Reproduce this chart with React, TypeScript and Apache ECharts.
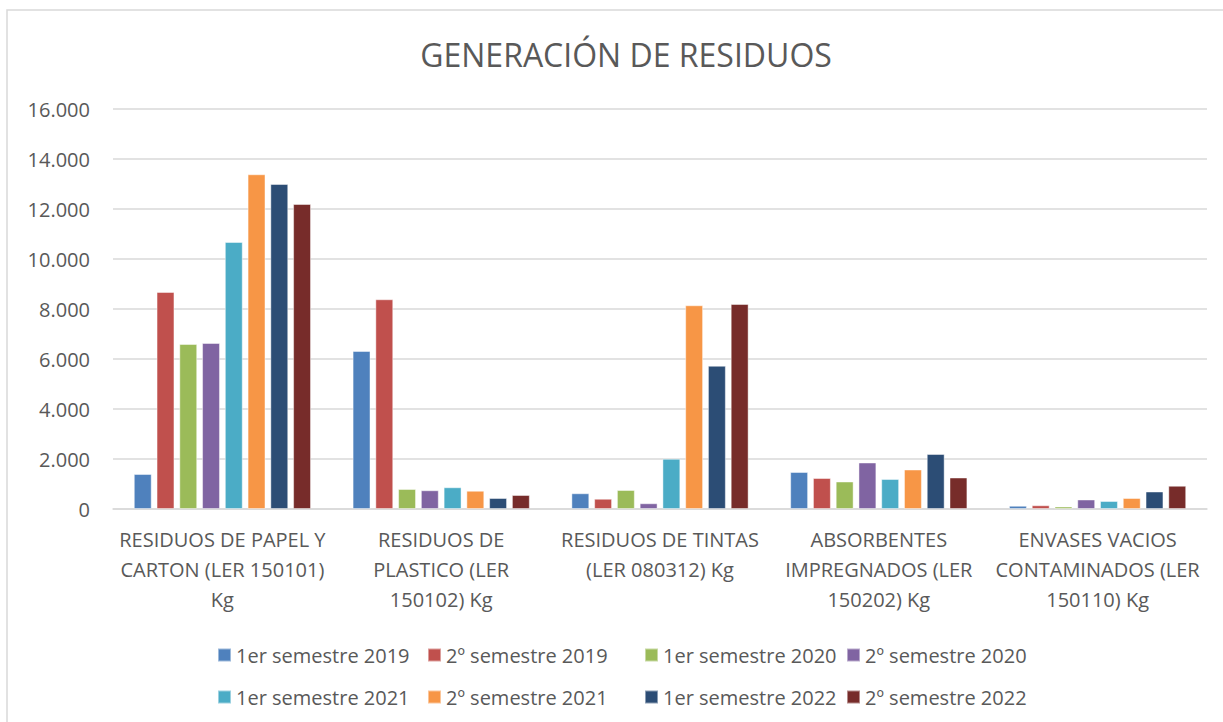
import React, { useEffect, useRef } from "react";
import * as echarts from "echarts";

const categories = [
  "RESIDUOS DE PAPEL Y\nCARTON (LER 150101)\nKg",
  "RESIDUOS DE\nPLASTICO (LER\n150102) Kg",
  "RESIDUOS DE TINTAS\n(LER 080312) Kg",
  "ABSORBENTES\nIMPREGNADOS (LER\n150202) Kg",
  "ENVASES VACIOS\nCONTAMINADOS (LER\n150110) Kg",
];

const seriesNames = [
  "1er semestre 2019",
  "2º semestre 2019",
  "1er semestre 2020",
  "2º semestre 2020",
  "1er semestre 2021",
  "2º semestre 2021",
  "1er semestre 2022",
  "2º semestre 2022",
];

const s1_2019 = [1400, 6320, 630, 1480, 130];
const s2_2019 = [8680, 8390, 410, 1240, 150];
const s1_2020 = [6600, 800, 760, 1100, 100];
const s2_2020 = [6640, 750, 230, 1860, 380];
const s1_2021 = [10680, 870, 2010, 1200, 320];
const s2_2021 = [13390, 730, 8150, 1580, 440];
const s1_2022 = [13000, 440, 5730, 2200, 700];
const s2_2022 = [12200, 560, 8200, 1260, 930];

const seriesValues = [s1_2019, s2_2019, s1_2020, s2_2020, s1_2021, s2_2021, s1_2022, s2_2022];

const colors = ["#4F81BD", "#C0504D", "#9BBB59", "#8064A2", "#4BACC6", "#F79646", "#2C4D75", "#772C2A"];

const legendLeft = [212, 422, 639, 841, 212, 422, 639, 841];
const legendTop = [640, 640, 640, 640, 682, 682, 682, 682];

const FONT = "'Open Sans', sans-serif";
const TEXT = "#595959";

export default function App() {
  const ref = useRef<HTMLDivElement>(null);
  useEffect(() => {
    if (!ref.current) return;
    const chart = echarts.init(ref.current, null, { renderer: "svg" });
    chart.setOption({
      animation: false,
      backgroundColor: "#ffffff",
      color: colors,
      title: {
        text: "GENERACIÓN DE RESIDUOS",
        left: 621,
        textAlign: "center",
        top: 33,
        textStyle: { fontFamily: FONT, fontSize: 32, fontWeight: "normal", color: TEXT },
      },
      graphic: [
        {
          type: "rect",
          shape: { x: 7, y: 10, width: 1400, height: 900 },
          style: { fill: "none", stroke: "#D9D9D9", lineWidth: 1.5 },
          silent: true,
        },
      ],
      legend: seriesNames.map((n, i) => ({
        data: [n],
        left: legendLeft[i],
        top: legendTop[i],
        itemWidth: 13,
        itemHeight: 13,
        itemGap: 0,
        icon: "rect",
        textStyle: { fontFamily: FONT, fontSize: 20, color: TEXT },
        selectedMode: false,
      })),
      grid: { left: 113, right: 16, top: 109, bottom: 213, containLabel: false },
      xAxis: {
        type: "category",
        data: categories,
        axisLine: { lineStyle: { color: "#D9D9D9", width: 1.5 } },
        axisTick: { show: false },
        axisLabel: {
          interval: 0,
          fontFamily: FONT,
          fontSize: 20,
          color: TEXT,
          lineHeight: 30,
          margin: 15,
        },
      },
      yAxis: {
        type: "value",
        min: 0,
        max: 16000,
        interval: 2000,
        axisLine: { show: false },
        axisTick: { show: false },
        splitLine: { lineStyle: { color: "#D9D9D9", width: 1.5 } },
        axisLabel: {
          fontFamily: FONT,
          fontSize: 20,
          color: TEXT,
          margin: 23,
          formatter: (v: number) => (v === 0 ? "0" : (v / 1000).toFixed(3)),
        },
      },
      series: seriesNames.map((n, i) => ({
        name: n,
        type: "bar",
        data: seriesValues[i],
        barGap: "27%",
        barCategoryGap: "19%",
        itemStyle: { color: colors[i], borderColor: "rgba(255,255,255,0.45)", borderWidth: 1 },
      })),
    });
    return () => chart.dispose();
  }, []);
  return (
    <div
      ref={ref}
      style={{ position: "fixed", left: 0, top: 0, width: 1223, height: 722 }}
    />
  );
}
